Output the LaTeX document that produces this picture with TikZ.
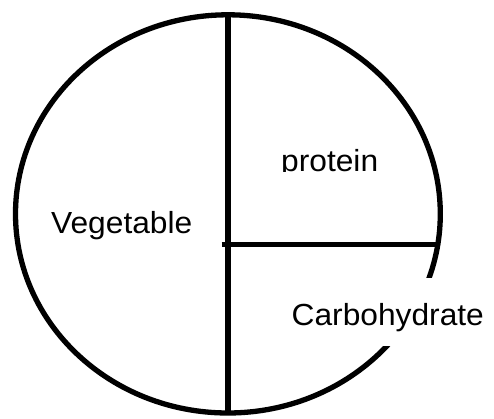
\documentclass[tikz,border=0pt]{standalone}
\usepackage{fontspec}
\setmainfont{Liberation Sans}
\newfontfamily\platefont[FakeStretch=1.04]{Liberation Sans}
\usepackage{xcolor}
\definecolor{plateink}{RGB}{0,0,0}
\usepackage{tikz}
\usetikzlibrary{positioning, calc}

\begin{document}
\begin{tikzpicture}[x=1pt, y=-1pt,
    rim/.style={line width=5.3pt, color=plateink},
    divider/.style={line width=4.3pt, color=plateink},
    foodlabel/.style={font=\platefont\fontsize{30.5}{36}\selectfont, inner sep=0pt}]
    \useasboundingbox (0,0) rectangle (494,419);

    % Plate outline
    \draw[rim] (227.9,213.9) ellipse [x radius=212.4, y radius=199.1];

    % Dividing lines
    \coordinate (top) at (227.8,14.8);
    \coordinate (bottom) at (227.8,413);
    \coordinate (hub) at (221.7,244.5);
    \coordinate (edge) at (438,244.5);
    \draw[rim, line width=5.5pt] (top) -- (bottom);
    \draw[divider] (hub) -- (edge);

    % Food group labels
    \node[foodlabel, anchor=base west] (veg) at (51,233.5) {Vegetable};
    \begin{scope}
        \clip (270,120) rectangle (400,172);
        \node[foodlabel, anchor=base west] (prot) at (281,172) {protein};
    \end{scope}
    \node[foodlabel, fill=white, text height=47pt, text depth=21pt, inner xsep=6pt, anchor=base west] (carbs) at (285.5,325) {Carbohydrate};
\end{tikzpicture}
\end{document}
